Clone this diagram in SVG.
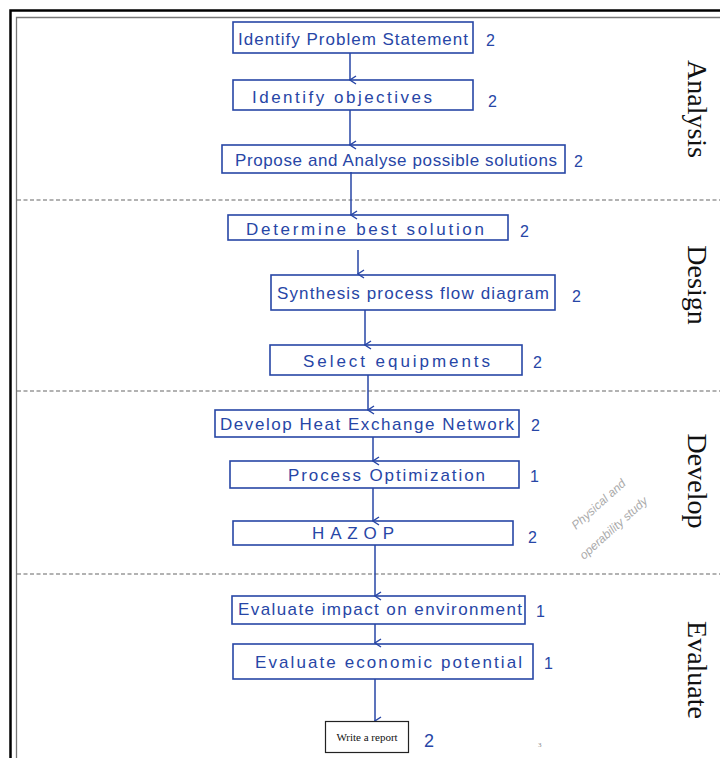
<svg xmlns="http://www.w3.org/2000/svg" width="720" height="758" viewBox="0 0 720 758">
<defs>
<style>
.box{fill:none;stroke:#2746a6;stroke-width:1.6}
.ht{font-family:"Liberation Sans Narrow","Liberation Sans",sans-serif;font-size:17px;fill:#2746a6}
.num{font-family:"Liberation Sans",sans-serif;font-size:16px;fill:#2746a6}
.sec{font-family:"Liberation Serif",serif;font-size:28px;fill:#111}
.dash{stroke:#666;stroke-width:1.2;stroke-dasharray:4 2.5}
.conn{stroke:#2746a6;stroke-width:1.5;fill:none}
</style>
<marker id="ah" markerWidth="10" markerHeight="10" refX="5" refY="9" orient="auto" markerUnits="userSpaceOnUse">
<path d="M1,3 L5,9 L9,3" fill="none" stroke="#2746a6" stroke-width="1.4"/>
</marker>
</defs>
<rect width="720" height="758" fill="#fff"/>
<!-- border -->
<path d="M10.5,758 V10.5 H720" fill="none" stroke="#000" stroke-width="2.5"/>
<path d="M16.5,758 V17.5 H720" fill="none" stroke="#777" stroke-width="1.3"/>
<!-- separators -->
<line class="dash" x1="17" y1="200" x2="720" y2="200"/>
<line class="dash" x1="17" y1="391" x2="720" y2="391"/>
<line class="dash" x1="17" y1="574" x2="720" y2="574"/>
<!-- section labels -->
<text class="sec" transform="translate(688,109) rotate(90)" text-anchor="middle">Analysis</text>
<text class="sec" transform="translate(688,285) rotate(90)" text-anchor="middle">Design</text>
<text class="sec" transform="translate(688,481) rotate(90)" text-anchor="middle">Develop</text>
<text class="sec" transform="translate(688,670) rotate(90)" text-anchor="middle">Evaluate</text>
<!-- connectors -->
<g id="connectors">
<line class="conn" x1="350" y1="53" x2="350" y2="80" marker-end="url(#ah)"/>
<line class="conn" x1="350" y1="110" x2="350" y2="145" marker-end="url(#ah)"/>
<line class="conn" x1="351" y1="172" x2="351" y2="215" marker-end="url(#ah)"/>
<line class="conn" x1="358" y1="250" x2="358" y2="274" marker-end="url(#ah)"/>
<line class="conn" x1="365" y1="310" x2="365" y2="345" marker-end="url(#ah)"/>
<line class="conn" x1="368" y1="375" x2="368" y2="410" marker-end="url(#ah)"/>
<line class="conn" x1="373" y1="437" x2="373" y2="461" marker-end="url(#ah)"/>
<line class="conn" x1="373" y1="488" x2="373" y2="521" marker-end="url(#ah)"/>
<line class="conn" x1="375" y1="545" x2="375" y2="596" marker-end="url(#ah)"/>
<line class="conn" x1="375" y1="624" x2="375" y2="643" marker-end="url(#ah)"/>
<line class="conn" x1="375" y1="679" x2="375" y2="721" marker-end="url(#ah)"/>
</g>
<!-- nodes -->
<g id="n1"><rect class="box" x="233" y="22" width="240" height="31"/><text class="ht" x="238" y="45" textLength="230" lengthAdjust="spacing">Identify Problem Statement</text><text class="num" x="486" y="46">2</text></g>
<g id="n2"><rect class="box" x="233" y="80" width="240" height="30"/><text class="ht" x="252" y="103" textLength="180" lengthAdjust="spacing">Identify objectives</text><text class="num" x="488" y="107">2</text></g>
<g id="n3"><rect class="box" x="222" y="145" width="343" height="28"/><text class="ht" x="235" y="166" textLength="322" lengthAdjust="spacing">Propose and Analyse possible solutions</text><text class="num" x="574" y="167">2</text></g>
<g id="n4"><rect class="box" x="228" y="215" width="280" height="25"/><text class="ht" x="246" y="235" textLength="238" lengthAdjust="spacing">Determine best solution</text><text class="num" x="520" y="237">2</text></g>
<g id="n5"><rect class="box" x="271" y="275" width="284" height="35"/><text class="ht" x="277" y="299" textLength="272" lengthAdjust="spacing">Synthesis process flow diagram</text><text class="num" x="572" y="302">2</text></g>
<g id="n6"><rect class="box" x="270" y="345" width="252" height="30"/><text class="ht" x="303" y="367" textLength="187" lengthAdjust="spacing">Select equipments</text><text class="num" x="533" y="368">2</text></g>
<g id="n7"><rect class="box" x="215" y="410" width="304" height="27"/><text class="ht" x="220" y="430" textLength="294" lengthAdjust="spacing">Develop Heat Exchange Network</text><text class="num" x="531" y="431">2</text></g>
<g id="n8"><rect class="box" x="230" y="461" width="289" height="27"/><text class="ht" x="288" y="481" textLength="197" lengthAdjust="spacing">Process Optimization</text><text class="num" x="530" y="482">1</text></g>
<g id="n9"><rect class="box" x="233" y="521" width="280" height="24"/><text class="ht" x="312" y="539" textLength="82" lengthAdjust="spacing">HAZOP</text><text class="num" x="528" y="543">2</text></g>
<g id="n10"><rect class="box" x="232" y="596" width="293" height="28"/><text class="ht" x="238" y="615" textLength="284" lengthAdjust="spacing">Evaluate impact on environment</text><text class="num" x="536" y="617">1</text></g>
<g id="n11"><rect class="box" x="233" y="644" width="300" height="35"/><text class="ht" x="255" y="668" textLength="267" lengthAdjust="spacing">Evaluate economic potential</text><text class="num" x="544" y="669">1</text></g>
<g id="n12"><rect x="325.5" y="721.5" width="83" height="31" fill="#fff" stroke="#222" stroke-width="1.2"/><text x="367" y="741" text-anchor="middle" font-family="Liberation Serif,serif" font-size="11" fill="#111">Write a report</text><text x="424" y="747" font-family="Liberation Sans,sans-serif" font-size="18" fill="#2746a6">2</text></g>
<!-- annotation -->
<g id="note" font-family="Liberation Sans,sans-serif" font-size="12" font-style="italic" fill="#aaa">
<text transform="translate(576,530) rotate(-42)">Physical and</text>
<text transform="translate(584,560) rotate(-42)">operability study</text>
</g>
<text x="538" y="747" font-family="Liberation Serif,serif" font-size="7" fill="#888">3</text>
</svg>
